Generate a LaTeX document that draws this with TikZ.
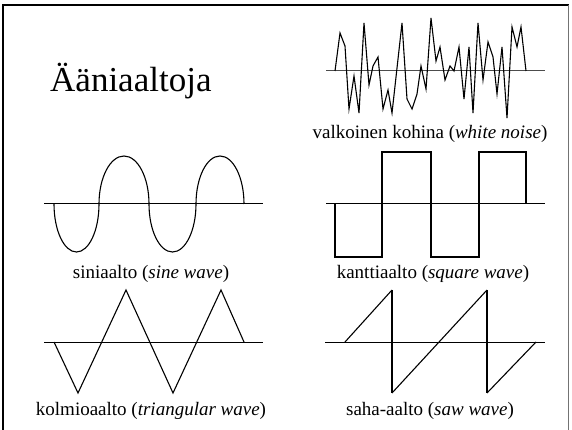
\documentclass[tikz,border=0pt]{standalone}
\usepackage{fontspec}
\setmainfont{Liberation Serif}

\begin{document}
\begin{tikzpicture}[
    x=1pt, y=-1pt,
    axis/.style={line width=1pt},
    wave/.style={line width=1.1pt,line join=miter},
    boldwave/.style={line width=2.2pt},
    caption/.style={anchor=base,inner sep=0pt,font=\fontsize{19}{23}\selectfont}]
  \useasboundingbox (0,0) rectangle (572,430);
  % frame
  \draw[line width=2.6pt] (3,430) -- (3,5) -- (569,5);
  \draw[black!55,line width=1pt] (568,5) -- (568,430);
  \node[anchor=base west,inner sep=0pt,font=\fontsize{35}{42}\selectfont] (title) at (50,92) {Ääniaaltoja};
  % white noise
  \draw[axis,black!70] (326,71) -- (545,71);
  \draw[wave] plot coordinates {(335,71) (340,33) (345,46) (349,109) (354,76) (359,113)
    (364,23) (369,85) (373,66) (378,57) (383,109) (388,90) (392,113) (402,23) (407,99)
    (412,109) (417,94) (421,66) (426,89) (431,18) (436,61) (440,47) (445,80) (450,66)
    (454,71) (459,47) (464,99) (469,47) (473,113) (478,23) (483,80) (488,42) (493,57)
    (497,94) (502,47) (507,118) (512,27) (517,47) (521,27) (526,71)};
  \node[caption] (noisecap) at (430,139) {valkoinen kohina (\textit{white noise})};
  % sine
  \draw[axis] (44,204) -- (263,204);
  \draw[wave] (54,204) arc[start angle=180,end angle=0,x radius=22.5,y radius=48]
    arc[start angle=180,end angle=360,x radius=25,y radius=48]
    arc[start angle=180,end angle=0,x radius=23.5,y radius=48]
    arc[start angle=180,end angle=360,x radius=24,y radius=48];
  \node[caption] (sinecap) at (151,278) {siniaalto (\textit{sine wave})};
  % square
  \draw[axis] (326,204) -- (545,204);
  \draw[boldwave] (335,204) |- (382,257) |- (431,152) |- (479,257) |- (526,152) -- (526,204);
  \node[caption] (squarecap) at (433,278) {kanttiaalto (\textit{square wave})};
  % triangle
  \draw[axis] (44,342) -- (263,342);
  \draw[wave] (54,342) -- (78,393) -- (126,290) -- (173,393) -- (221,290) -- (244,342);
  \node[caption] (tricap) at (151,415) {kolmioaalto (\textit{triangular wave})};
  % saw
  \draw[axis] (325,342) -- (545,342);
  \draw[wave] (345,342) -- (392,290);
  \draw[boldwave] (392,290) -- (392,393);
  \draw[wave] (392,393) -- (487,290);
  \draw[boldwave] (487,290) -- (487,393);
  \draw[wave] (487,393) -- (536,342);
  \node[caption] (sawcap) at (430,415) {saha-aalto (\textit{saw wave})};
\end{tikzpicture}
\end{document}
